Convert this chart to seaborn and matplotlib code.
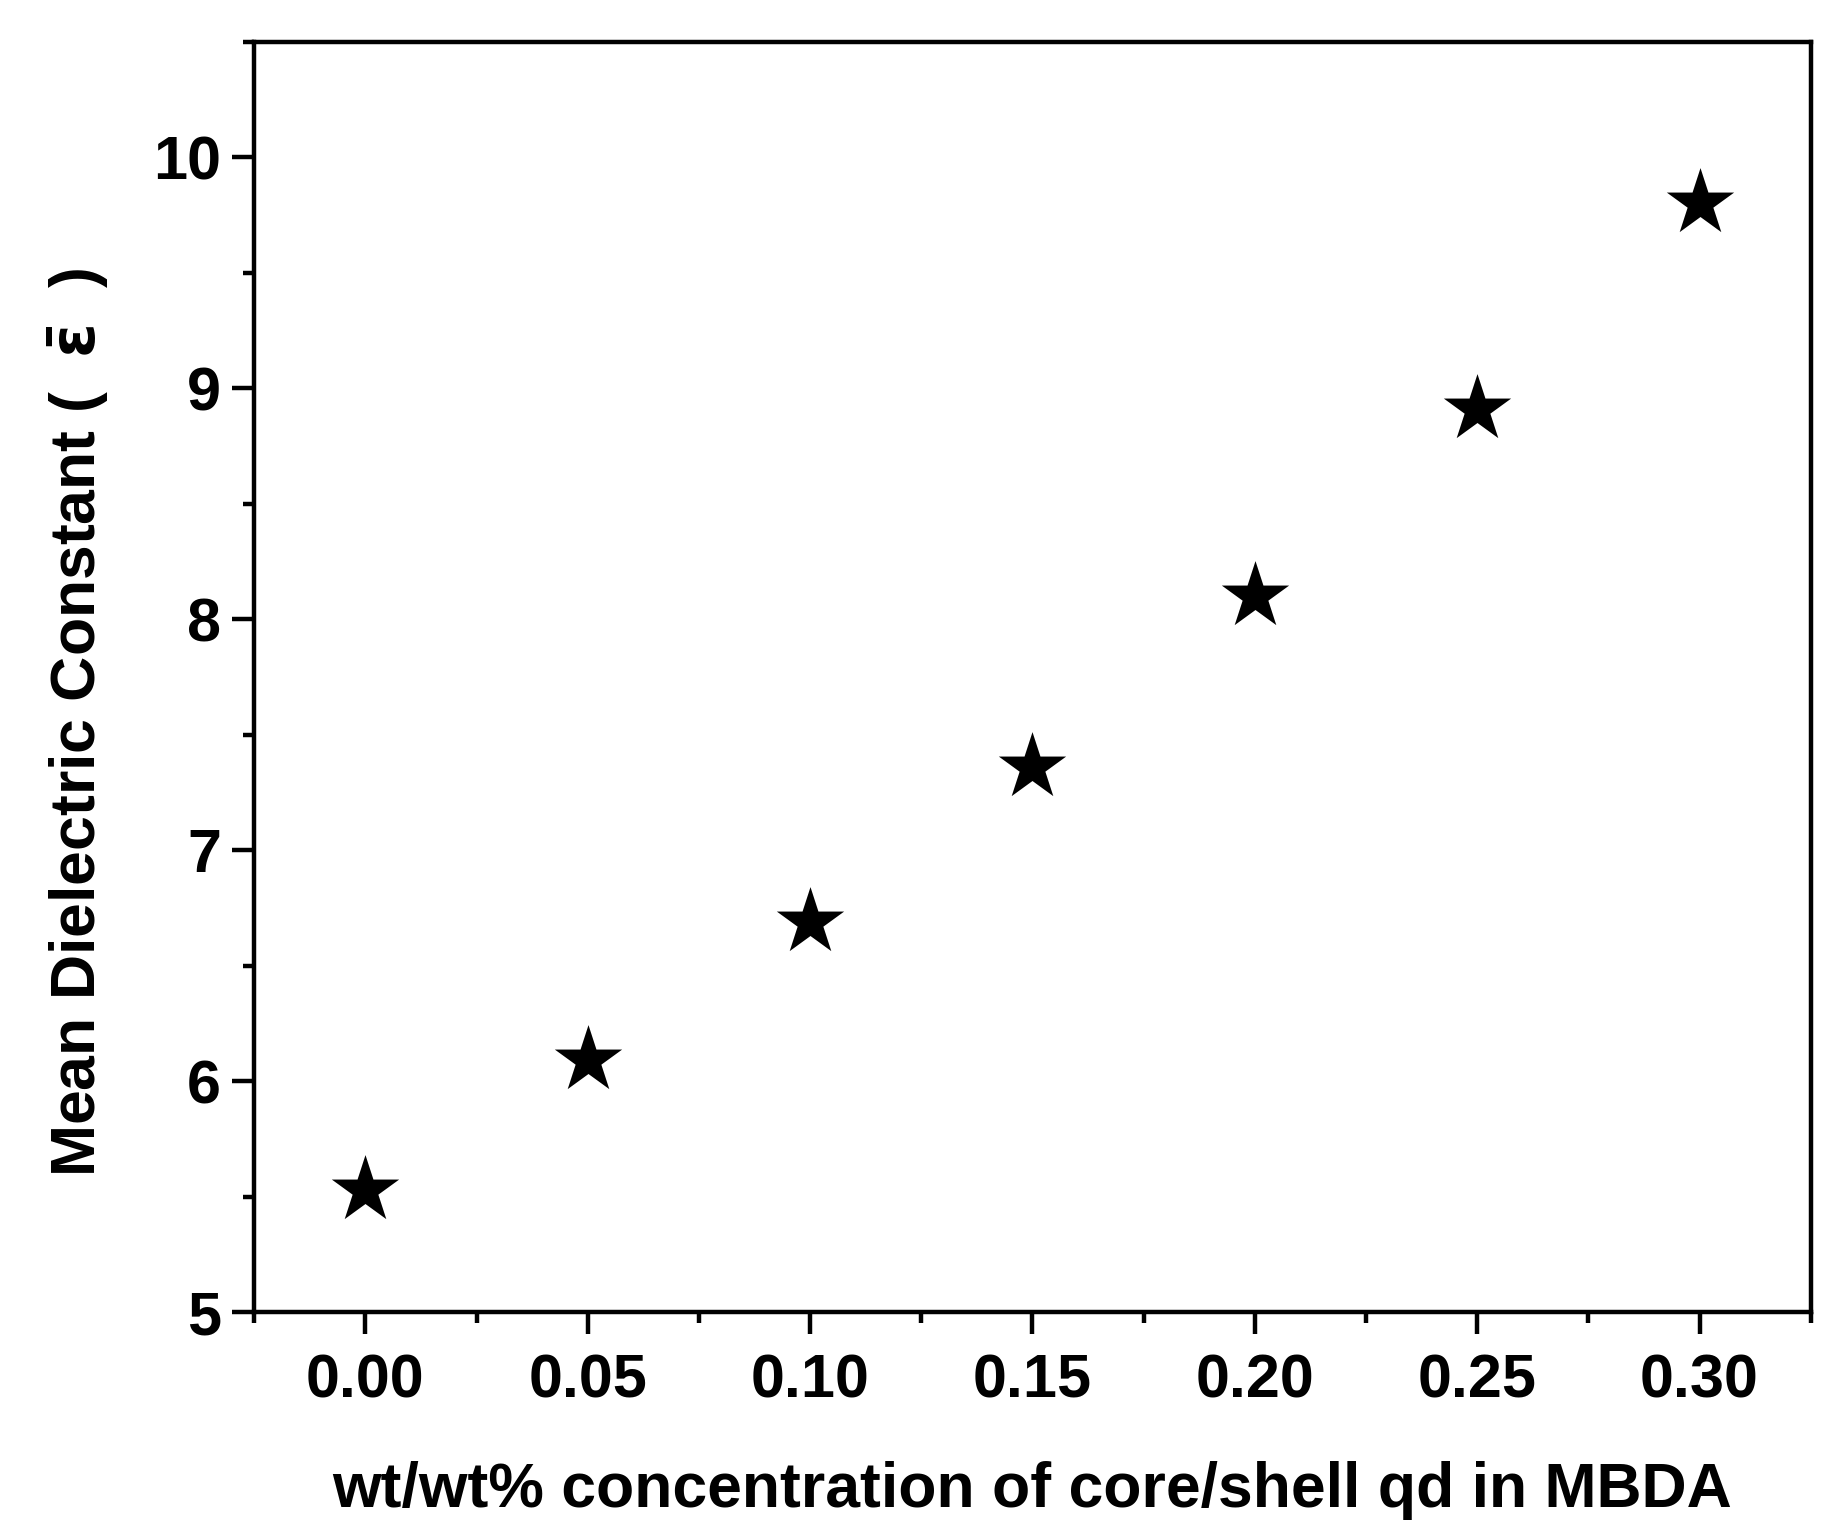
import numpy as np
import pandas as pd
import matplotlib
matplotlib.use("Agg")
import matplotlib.pyplot as plt
from matplotlib.ticker import MultipleLocator
import seaborn as sns

# values
concentration = [0.00, 0.05, 0.10, 0.15, 0.20, 0.25, 0.30]
mean_dielectric = [5.53, 6.09, 6.69, 7.36, 8.10, 8.91, 9.80]

df = pd.DataFrame({"conc": concentration, "eps": mean_dielectric})

sns.set_style("ticks")
plt.rcParams['font.family'] = ['Liberation Sans', 'DejaVu Sans']
plt.rcParams['font.weight'] = 'bold'
plt.rcParams['mathtext.fontset'] = 'dejavusans'
plt.rcParams['text.color'] = 'black'
plt.rcParams['axes.labelcolor'] = 'black'

fig = plt.figure(figsize=(18.42, 15.40), dpi=100)
ax = fig.add_axes([0.138, 0.148, 0.845, 0.825])

sns.scatterplot(data=df, x="conc", y="eps", marker="*", s=2600,
                color="black", edgecolor="black", linewidth=0, ax=ax,
                legend=False, zorder=3)

ax.set_xlim(-0.025, 0.325)
ax.set_ylim(5, 10.5)
ax.xaxis.set_minor_locator(MultipleLocator(0.025))
ax.yaxis.set_minor_locator(MultipleLocator(0.5))
ax.set_yticks([5, 6, 7, 8, 9, 10])
ax.set_xticks(concentration)
ax.set_xticklabels([f"{c:.2f}" for c in concentration])

for sp in ax.spines.values():
    sp.set_linewidth(3.2)
    sp.set_color("black")

ax.tick_params(axis="both", which="major", direction="out", length=16,
               width=3.2, labelsize=44, colors="black")
ax.tick_params(axis="x", which="major", pad=14)
ax.tick_params(axis="y", which="major", pad=8)
ax.tick_params(axis="both", which="minor", direction="out", length=8,
               width=3.2, colors="black")
ax.tick_params(top=False, right=False, which="both")
for lab in ax.get_xticklabels() + ax.get_yticklabels():
    lab.set_fontweight("bold")

ax.set_xlabel("wt/wt% concentration of core/shell qd in MBDA",
              fontsize=45, fontweight="bold", labelpad=36)
ax.set_ylabel(r"Mean Dielectric Constant (  $\bar{\mathrm{\varepsilon}}$  )",
              fontsize=45, fontweight="bold")
ax.yaxis.set_label_coords(-0.092, 0.464)

fig.savefig("out.png", dpi=100, facecolor="white")
